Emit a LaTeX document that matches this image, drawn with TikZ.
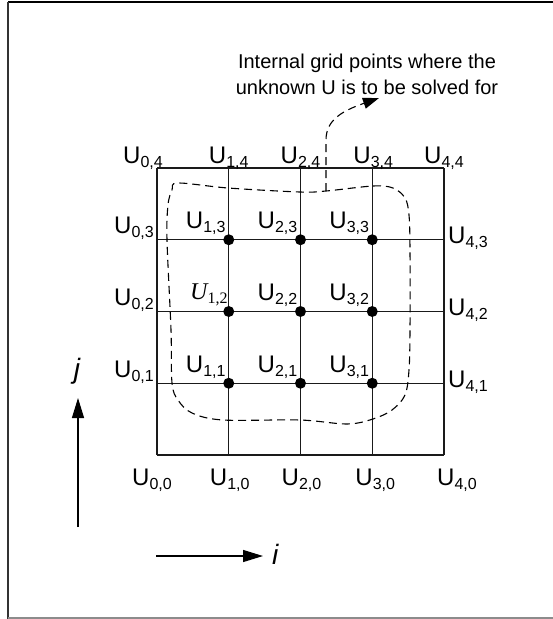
\documentclass[tikz,border=0pt]{standalone}
\usepackage{fontspec}
\setmainfont{Liberation Sans}
\newfontfamily\timesfont{Liberation Serif}
\usepackage{tikz}
\usetikzlibrary{arrows.meta}
\definecolor{gridc}{HTML}{1A1A1A}
\newcommand{\Ulab}[1]{U\raisebox{-4pt}{\fontsize{16}{16}\selectfont #1}}
\tikzset{
  gl/.style={line width=1.2pt,gridc},
  lbl/.style={font=\fontsize{24}{26}\selectfont,inner sep=0pt},
  idot/.style={circle,fill=black,minimum size=11pt,inner sep=0pt},
  loopline/.style={line width=1.1pt,dash pattern=on 8pt off 5pt},
  ax/.style={-{Triangle[length=20pt,width=12pt]},line width=1.3pt}
}

\begin{document}
\begin{tikzpicture}[x=1pt,y=-1pt]
\useasboundingbox (0,0) rectangle (553,619);
% frame
\draw[line width=1.6pt] (8,2) -- (553,2);
\draw[line width=2pt,black!80] (8,2) -- (8,619);
\draw[line width=1.6pt,black!45] (8,618) -- (553,618);
% grid
\foreach \i in {0,...,4}
  \foreach \j in {0,...,4}
    \coordinate (g\i\j) at (157+71.75*\i,455-71.75*\j);
\foreach \k in {0,...,4} {
  \draw[gl] (g\k0) -- (g\k4);
  \draw[gl] (g0\k) -- (g4\k);
}
% internal points
\foreach \i in {1,2,3}
  \foreach \j in {1,2,3}
    \node[idot] (d\i\j) at (g\i\j) {};
\foreach \i/\j in {1/1,2/1,3/1,2/2,3/2,1/3,2/3,3/3}
  \node[lbl,anchor=base east] (u\i\j) at ([shift={(-3,-11)}]g\i\j) {\Ulab{\i,\j}};
\node[lbl,anchor=base east] (u12) at ([shift={(-1,-12)}]g12)
  {{\timesfont\itshape U}\raisebox{-4pt}{\timesfont\fontsize{16}{16}\selectfont 1,2}};
% boundary labels
\foreach \i/\dx in {0/-14,1/0,2/0,3/1,4/0}
  \node[lbl,anchor=base] (u\i4) at ([shift={(\dx,-5)}]g\i4) {\Ulab{\i,4}};
\foreach \i/\dx in {0/-5,1/1,2/1,3/3,4/13}
  \node[lbl,anchor=base] (u\i0) at ([shift={(\dx,30)}]g\i0) {\Ulab{\i,0}};
\foreach \j in {1,2,3} {
  \node[lbl,anchor=base east] (u0\j) at ([shift={(-3,-6)}]g0\j) {\Ulab{0,\j}};
  \node[lbl,anchor=base west] (u4\j) at ([shift={(4,4)}]g4\j) {\Ulab{4,\j}};
}
% region of unknowns
\draw[loopline] plot[smooth cycle,tension=0.55] coordinates {
  (326,191) (373,186) (393,188) (405,198) (409,215) (410,250) (410,330)
  (409,370) (405,395) (392,410) (373,419) (347,424) (300,420) (223,420)
  (192,413) (178,400) (172,383) (171,330) (167,240) (168,205) (172,190)
  (178,183) (228,188) (300,192)};
\coordinate (loopjoin) at (326,191);
\coordinate (notetip) at (379,98);
\node[font=\fontsize{20}{26}\selectfont,align=center,inner sep=0pt] (note) at (367,74)
  {Internal grid points where the\\unknown U is to be solved for};
\draw[loopline,-{Triangle[length=16pt,width=11pt]}] (loopjoin) -- (326,140)
  .. controls (326,120) and (342,111) .. (notetip);
% index directions
\coordinate (jfoot) at (78,527);
\coordinate (jtip) at (78,398);
\draw[ax] (jfoot) -- (jtip);
\node[font=\fontsize{28}{28}\selectfont\itshape] (jlab) at (77,371) {j};
\coordinate (ifoot) at (156,556);
\coordinate (itip) at (263,556);
\draw[ax] (ifoot) -- (itip);
\node[font=\fontsize{28}{28}\selectfont\itshape,anchor=west,inner sep=0pt] (ilab) at (272,554) {i};
\end{tikzpicture}
\end{document}
